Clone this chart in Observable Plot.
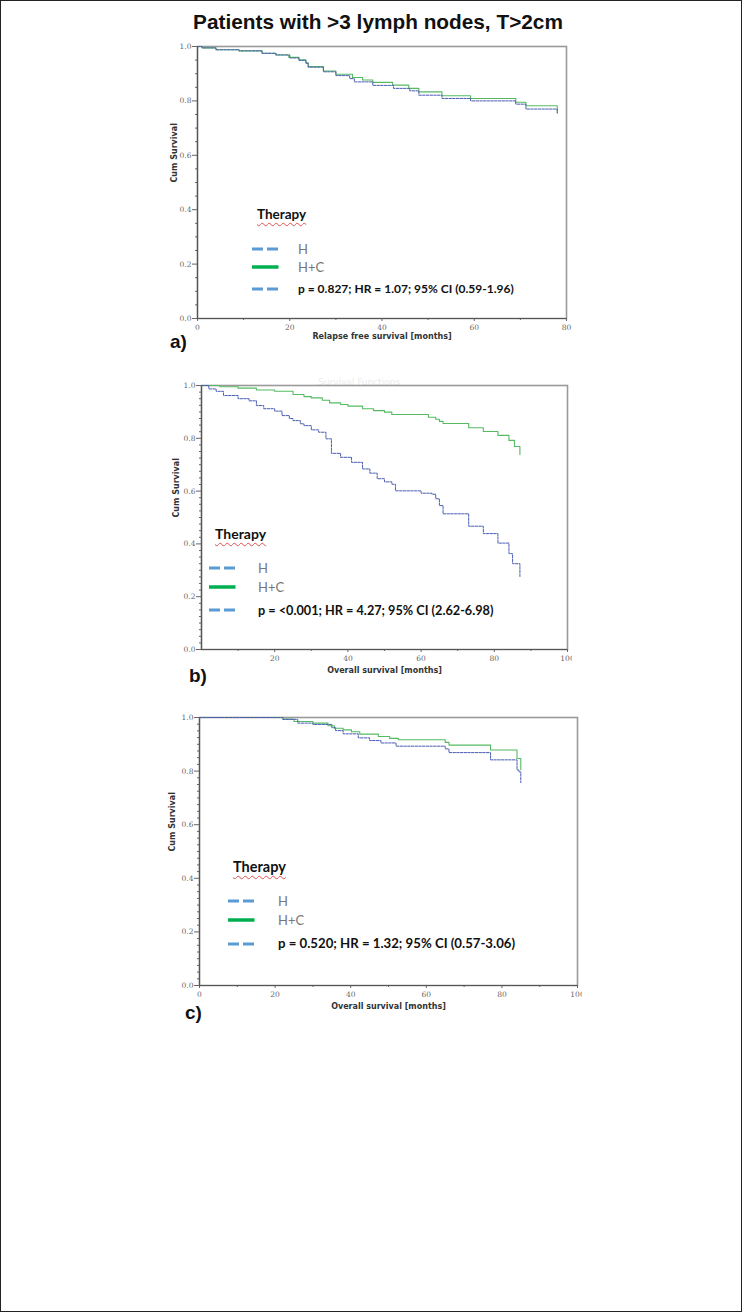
<!DOCTYPE html>
<html><head><meta charset="utf-8">
<script src="https://cdn.jsdelivr.net/npm/d3@7"></script>
<script src="https://cdn.jsdelivr.net/npm/@observablehq/plot@0.6"></script>
<style>
body{margin:0;background:#fff;}
#page{position:relative;width:742px;height:1312px;overflow:hidden;background:#fff;font-family:"Liberation Sans",Arial,sans-serif;}
#border{position:absolute;left:0;top:0;width:742px;height:1312px;box-sizing:border-box;border:1px solid #222;pointer-events:none;}
.abs{position:absolute;white-space:nowrap;line-height:1;}
.mid{transform:translateY(-50%);}
.panelsvg{position:absolute;}
.therapy{font-family:Lato,"Open Sans",sans-serif;font-weight:bold;color:#111;text-decoration:underline wavy #e05050;text-decoration-thickness:1px;text-underline-offset:3px;}
.leg{font-family:Lato,"Open Sans",sans-serif;color:#777;}
.stat{font-family:Lato,"Open Sans",sans-serif;font-weight:bold;color:#111;}
.tag{font-family:"Liberation Sans",Arial,sans-serif;font-weight:bold;color:#111;}
</style></head><body><div id="page"><div id="border"></div></div>
<script>
// ---------------- data ----------------
const title = "Patients with >3 lymph nodes, T>2cm";
const groups = ["H", "H+C"];
const yMajorTicks = [0, 0.2, 0.4, 0.6, 0.8, 1.0];

// panel a: relapse free survival [month, cumulative survival]
const rfsH = [[0,1],[1,0.995],[4,0.988],[9,0.984],[14,0.975],[17,0.969],[20,0.958],[22,0.949],[23.5,0.938],[24,0.924],[27.3,0.907],[30,0.893],[33,0.882],[34,0.87],[38,0.857],[42.5,0.846],[46,0.837],[48,0.821],[53,0.809],[59.2,0.80],[69,0.788],[71.2,0.77],[78,0.77],[78,0.755]];
const rfsHC = [[0,1],[1,0.995],[4,0.988],[9,0.984],[14,0.975],[17,0.969],[19.8,0.96],[22,0.951],[23.5,0.94],[24,0.926],[27.3,0.91],[30,0.898],[33.6,0.886],[35.8,0.877],[38,0.868],[42.3,0.858],[45.8,0.846],[48,0.833],[53,0.819],[59.2,0.809],[69,0.795],[71.2,0.782],[78,0.782],[78,0.757]];
const aXTicks = [0, 20, 40, 60, 80];
const aStat = "p = 0.827; HR = 1.07; 95% CI (0.59-1.96)";

// panel b: overall survival
const osH = [[0,1],[2,0.987],[4,0.978],[6,0.962],[10,0.95],[13,0.942],[15,0.924],[17,0.912],[20,0.903],[22,0.886],[24,0.875],[25,0.867],[27,0.855],[28,0.848],[30,0.832],[32,0.823],[34,0.798],[35.5,0.743],[38,0.728],[41,0.709],[44,0.684],[46,0.668],[48,0.647],[50,0.635],[52,0.626],[53,0.601],[60,0.592],[63,0.588],[64,0.571],[65,0.545],[66,0.514],[73,0.467],[77,0.439],[81,0.403],[84,0.363],[85,0.325],[87,0.325],[87,0.274]];
const osHC = [[0,1],[5,0.995],[10,0.99],[15,0.983],[20,0.978],[25,0.966],[28,0.958],[30,0.953],[33,0.944],[35,0.934],[38,0.928],[40,0.922],[44,0.912],[47,0.905],[50,0.899],[52,0.89],[62,0.88],[64,0.872],[65,0.864],[66,0.856],[73,0.84],[77,0.826],[81,0.811],[84,0.792],[85.5,0.769],[87,0.769],[87,0.739]];
const bXTicks = [20, 40, 60, 80, 100];
const bStat = "p = <0.001; HR = 4.27; 95% CI (2.62-6.98)";

// panel c: overall survival
const os2H = [[0,1],[21,1],[22,0.993],[26,0.979],[30,0.974],[35,0.962],[36,0.951],[38,0.939],[42,0.924],[45,0.914],[48,0.905],[52,0.893],[65,0.883],[66,0.869],[77,0.842],[84,0.804],[84.5,0.797],[85,0.797],[85,0.757]];
const os2HC = [[0,1],[21,1],[22.2,0.994],[25,0.985],[30,0.979],[34,0.969],[35.7,0.96],[38,0.954],[40.2,0.947],[42.4,0.938],[47.3,0.929],[50.3,0.922],[52.6,0.917],[65,0.907],[66,0.897],[77,0.879],[84,0.847],[85,0.847],[85,0.805]];
const cXTicks = [0, 20, 40, 60, 80, 100];
const cStat = "p = 0.520; HR = 1.32; 95% CI (0.57-3.06)";

// ---------------- drawing ----------------
const page = document.getElementById("page");
function addDiv(cls, text, css) {
  const d = document.createElement("div");
  d.className = "abs " + cls;
  d.textContent = text;
  Object.assign(d.style, css);
  page.appendChild(d);
  return d;
}

addDiv("tag", title, {left: "0px", width: "756px", textAlign: "center", top: "12px", fontSize: "20.8px"});

function panel(cfg) {
  const toRows = (arr, g) => arr.map(([m, s]) => ({m, s, g}));
  const hRows = toRows(cfg.h, groups[0]);
  const hcRows = toRows(cfg.hc, groups[1]);
  const xMax = cfg.xDomain[1];
  const xMinor = d3.range(10, xMax, 20);
  const yMinor = d3.range(0, 1.0001, cfg.yMinorStep).filter(v => Math.abs(v * 5 - Math.round(v * 5)) > 1e-6);
  const p = Plot.plot({
    width: cfg.width, height: cfg.height,
    marginLeft: cfg.ml, marginRight: cfg.mr, marginTop: cfg.mt, marginBottom: cfg.mb,
    x: {domain: cfg.xDomain},
    y: {domain: [0, 1]},
    style: {fontFamily: "'DejaVu Serif', 'Liberation Serif', serif", fontSize: "7.5px", color: "#666", background: "transparent"},
    marks: [
      Plot.frame({stroke: "#9a9a9a", strokeWidth: 1.6}),
      Plot.axisY({ticks: yMinor, tickSize: 2, text: null, label: null, stroke: "#666"}),
      Plot.axisY({ticks: yMajorTicks, tickSize: 5, tickPadding: 1, tickFormat: d3.format(".1f"), label: null, stroke: "#666", fill: "#666"}),
      Plot.axisX({ticks: xMinor, tickSize: 2, text: null, label: null, stroke: "#666"}),
      Plot.axisX({ticks: cfg.xTicks, tickSize: 3, tickPadding: 3, tickFormat: d => String(d), label: null, stroke: "#666", fill: "#666"}),
      Plot.ruleX([0], {stroke: "#555", strokeWidth: 1.2}),
      Plot.ruleY([0], {stroke: "#555", strokeWidth: 1.2}),
      Plot.line(hcRows, {x: "m", y: "s", curve: "step-after", stroke: "#55ba62", strokeWidth: 1.1}),
      Plot.line(hRows, {x: "m", y: "s", curve: "step-after", stroke: "#4a5db3", strokeWidth: 1, strokeDasharray: "2.5,1.2"}),
      Plot.text(["Cum Survival"], {frameAnchor: "left", rotate: -90, dx: cfg.yLabDx, fontFamily: "'DejaVu Sans', sans-serif", fontWeight: "bold", fontSize: 8, fill: "#333"}),
      Plot.text([cfg.xLabel], {frameAnchor: "bottom", dy: cfg.xLabDy, fontFamily: "'DejaVu Sans', sans-serif", fontWeight: "bold", fontSize: 8, fill: "#333"})
    ]
  });
  p.classList.add("panelsvg");
  p.style.left = cfg.left + "px";
  p.style.top = cfg.top + "px";
  page.appendChild(p);

  // legend
  const L = cfg.legend;
  addDiv("therapy mid", "Therapy", {left: L.thx + "px", top: L.thy + "px", fontSize: L.thfs + "px"});
  const rowsY = [L.y1, L.y2, L.y3];
  const swatches = [
    {stroke: "#5b9bd5", dash: "11,4", w: 3},
    {stroke: "#00b050", dash: null, w: 3.5},
    {stroke: "#5b9bd5", dash: "11,4", w: 3}
  ];
  swatches.forEach((s, i) => {
    const ns = "http://www.w3.org/2000/svg";
    const svg = document.createElementNS(ns, "svg");
    svg.setAttribute("width", 28); svg.setAttribute("height", 8);
    svg.style.position = "absolute";
    svg.style.left = L.swx + "px";
    svg.style.top = (rowsY[i] - 4) + "px";
    const ln = document.createElementNS(ns, "line");
    ln.setAttribute("x1", 0); ln.setAttribute("x2", 26.5);
    ln.setAttribute("y1", 4); ln.setAttribute("y2", 4);
    ln.setAttribute("stroke", s.stroke);
    ln.setAttribute("stroke-width", s.w);
    if (s.dash) ln.setAttribute("stroke-dasharray", s.dash);
    svg.appendChild(ln);
    page.appendChild(svg);
  });
  addDiv("leg mid", groups[0], {left: L.tx + "px", top: L.y1 + "px", fontSize: L.fs + "px"});
  addDiv("leg mid", groups[1], {left: L.tx + "px", top: L.y2 + "px", fontSize: L.fs + "px"});
  addDiv("stat mid", cfg.stat, {left: L.tx + "px", top: L.y3 + "px", fontSize: L.sfs + "px"});

  addDiv("tag", cfg.tag, {left: cfg.tagX + "px", top: cfg.tagY + "px", fontSize: "19px"});
}

// faint clipped heading above panel b
addDiv("", "Survival Functions", {left: "318px", top: "378px", fontSize: "9px", color: "#ececec", fontFamily: "'DejaVu Sans', sans-serif"});

panel({
  h: rfsH, hc: rfsHC, xDomain: [0, 80], xTicks: aXTicks, xLabel: "Relapse free survival [months]",
  left: 140, top: 36, width: 440, height: 312, ml: 57, mr: 14, mt: 10, mb: 30,
  yMinorStep: 0.05, yLabDx: -23, xLabDy: 20, stat: aStat, tag: "a)", tagX: 170, tagY: 332,
  legend: {thx: 257, thy: 215, thfs: 13.5, swx: 252, tx: 298, y1: 249, y2: 267, y3: 289, fs: 13, sfs: 12}
});
panel({
  h: osH, hc: osHC, xDomain: [0, 100], xTicks: bXTicks, xLabel: "Overall survival [months]",
  left: 140, top: 375, width: 432, height: 304, ml: 61, mr: 5, mt: 10, mb: 30,
  yMinorStep: 0.025, yLabDx: -25, xLabDy: 23, stat: bStat, tag: "b)", tagX: 189, tagY: 666,
  legend: {thx: 215, thy: 534, thfs: 14, swx: 209, tx: 258, y1: 568, y2: 587, y3: 610, fs: 13, sfs: 12.7}
});
panel({
  h: os2H, hc: os2HC, xDomain: [0, 100], xTicks: cXTicks, xLabel: "Overall survival [months]",
  left: 140, top: 707, width: 442, height: 308, ml: 59, mr: 5, mt: 10, mb: 30,
  yMinorStep: 0.025, yLabDx: -27, xLabDy: 23, stat: cStat, tag: "c)", tagX: 185, tagY: 1003,
  legend: {thx: 233, thy: 867, thfs: 14.5, swx: 228, tx: 278, y1: 901, y2: 920, y3: 944, fs: 13, sfs: 13.2}
});
</script></body></html>
